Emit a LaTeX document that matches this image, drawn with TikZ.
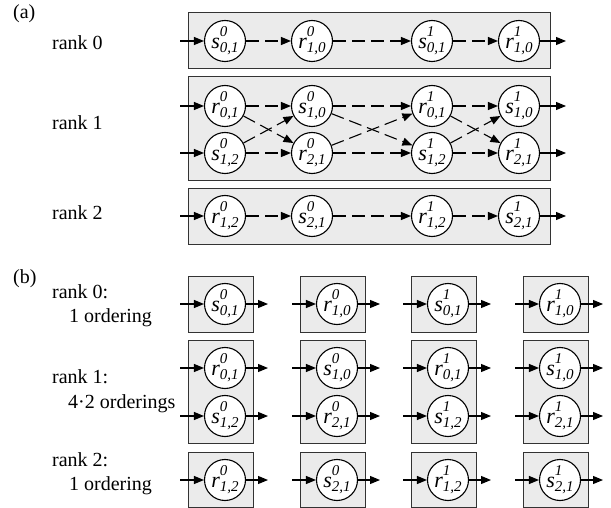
\documentclass[tikz,border=0pt]{standalone}
\usepackage{fontspec}
\setmainfont{Liberation Serif}
\usetikzlibrary{arrows.meta}
\newcommand\nlab[3]{\fontsize{22}{22}\selectfont\textit{#1}\makebox[0pt][l]{\raisebox{12pt}{\fontsize{15}{15}\selectfont\textit{#2}}}\raisebox{-4pt}{\fontsize{15}{15}\selectfont\textit{#3}}}
\tikzset{
 vtx/.style={circle, draw, line width=1.1pt, fill=white, minimum size=41pt, inner sep=0pt},
 grp/.style={draw=black!80, fill=black!8, line width=1pt},
 arr/.style={-{Triangle[length=10pt,width=8pt]}, line width=1.1pt},
 darr/.style={arr, dash pattern=on 13pt off 6pt},
 lbl/.style={anchor=base west, inner sep=0pt, font=\fontsize{20}{24}\selectfont},
}
\begin{document}
\begin{tikzpicture}[x=1pt,y=-1pt]
\useasboundingbox (0,0) rectangle (611,508);
% ---------- (a) ----------
\node[lbl] (la) at (13,19) {(a)};
\node[lbl] (la0) at (52,50) {rank 0};
\node[lbl] (la1) at (52,130) {rank 1};
\node[lbl] (la2) at (52,220) {rank 2};
\draw[grp] (188,13) rectangle (550,69);
\draw[grp] (188,77) rectangle (550,181);
\draw[grp] (188,189) rectangle (550,244);
% rank 0
\node[vtx] (a0a) at (225,41) {\nlab{s}{0}{0,1}};
\node[vtx] (a0b) at (312,41) {\nlab{r}{0}{1,0}};
\node[vtx] (a0c) at (432,41) {\nlab{s}{1}{0,1}};
\node[vtx] (a0d) at (519,41) {\nlab{r}{1}{1,0}};
% rank 1
\node[vtx] (a1a) at (225,106) {\nlab{r}{0}{0,1}};
\node[vtx] (a1A) at (225,153) {\nlab{s}{0}{1,2}};
\node[vtx] (a1b) at (312,106) {\nlab{s}{0}{1,0}};
\node[vtx] (a1B) at (312,153) {\nlab{r}{0}{2,1}};
\node[vtx] (a1c) at (432,106) {\nlab{r}{1}{0,1}};
\node[vtx] (a1C) at (432,153) {\nlab{s}{1}{1,2}};
\node[vtx] (a1d) at (519,106) {\nlab{s}{1}{1,0}};
\node[vtx] (a1D) at (519,153) {\nlab{r}{1}{2,1}};
% rank 2
\node[vtx] (a2a) at (225,216) {\nlab{r}{0}{1,2}};
\node[vtx] (a2b) at (312,216) {\nlab{s}{0}{2,1}};
\node[vtx] (a2c) at (432,216) {\nlab{r}{1}{1,2}};
\node[vtx] (a2d) at (519,216) {\nlab{s}{1}{2,1}};
% in/out points
\coordinate (ia0) at (180,41);  \coordinate (oa0) at (566,41);
\coordinate (ia1) at (180,106); \coordinate (oa1) at (566,106);
\coordinate (ia1b) at (180,153); \coordinate (oa1b) at (566,153);
\coordinate (ia2) at (180,216); \coordinate (oa2) at (566,216);
\draw[arr] (ia0) -- (a0a); \draw[arr] (a0d) -- (oa0);
\draw[arr] (ia1) -- (a1a); \draw[arr] (a1d) -- (oa1);
\draw[arr] (ia1b) -- (a1A); \draw[arr] (a1D) -- (oa1b);
\draw[arr] (ia2) -- (a2a); \draw[arr] (a2d) -- (oa2);
\draw[darr] (a0a) -- (a0b); \draw[darr] (a0b) -- (a0c); \draw[darr] (a0c) -- (a0d);
\draw[darr] (a2a) -- (a2b); \draw[darr] (a2b) -- (a2c); \draw[darr] (a2c) -- (a2d);
\draw[darr] (a1a) -- (a1b); \draw[darr] (a1a) -- (a1B); \draw[darr] (a1A) -- (a1b); \draw[darr] (a1A) -- (a1B);
\draw[darr] (a1b) -- (a1c); \draw[darr] (a1b) -- (a1C); \draw[darr] (a1B) -- (a1c); \draw[darr] (a1B) -- (a1C);
\draw[darr] (a1c) -- (a1d); \draw[darr] (a1c) -- (a1D); \draw[darr] (a1C) -- (a1d); \draw[darr] (a1C) -- (a1D);
% ---------- (b) ----------
\node[lbl] (lb) at (13,283) {(b)};
\node[lbl] (lb0) at (52,298) {rank 0:};
\node[lbl] (lb0o) at (69,322) {1 ordering};
\node[lbl] (lb1) at (52,383) {rank 1:};
\node[lbl] (lb1o) at (68,408) {4·2 orderings};
\node[lbl] (lb2) at (52,466) {rank 2:};
\node[lbl] (lb2o) at (69,490) {1 ordering};
\foreach \x in {225,337,448,560}{
  \draw[grp] (\x-37,276) rectangle (\x+28,332);
  \draw[grp] (\x-37,340) rectangle (\x+28,443);
  \draw[grp] (\x-37,452) rectangle (\x+28,507);
}
% column 1
\node[vtx] (b1a) at (225,304) {\nlab{s}{0}{0,1}};
\node[vtx] (b1b) at (225,368) {\nlab{r}{0}{0,1}};
\node[vtx] (b1c) at (225,416) {\nlab{s}{0}{1,2}};
\node[vtx] (b1d) at (225,480) {\nlab{r}{0}{1,2}};
% column 2
\node[vtx] (b2a) at (337,304) {\nlab{r}{0}{1,0}};
\node[vtx] (b2b) at (337,368) {\nlab{s}{0}{1,0}};
\node[vtx] (b2c) at (337,416) {\nlab{r}{0}{2,1}};
\node[vtx] (b2d) at (337,480) {\nlab{s}{0}{2,1}};
% column 3
\node[vtx] (b3a) at (448,304) {\nlab{s}{1}{0,1}};
\node[vtx] (b3b) at (448,368) {\nlab{r}{1}{0,1}};
\node[vtx] (b3c) at (448,416) {\nlab{s}{1}{1,2}};
\node[vtx] (b3d) at (448,480) {\nlab{r}{1}{1,2}};
% column 4
\node[vtx] (b4a) at (560,304) {\nlab{r}{1}{1,0}};
\node[vtx] (b4b) at (560,368) {\nlab{s}{1}{1,0}};
\node[vtx] (b4c) at (560,416) {\nlab{r}{1}{2,1}};
\node[vtx] (b4d) at (560,480) {\nlab{s}{1}{2,1}};
\foreach \i/\x in {1/225,2/337,3/448,4/560}{
  \foreach \r/\y in {a/304,b/368,c/416,d/480}{
    \coordinate (bi\i\r) at (\x-45,\y);
    \coordinate (bo\i\r) at (\x+43,\y);
    \draw[arr] (bi\i\r) -- (b\i\r);
    \draw[arr] (b\i\r) -- (bo\i\r);
  }
}
\end{tikzpicture}
\end{document}
